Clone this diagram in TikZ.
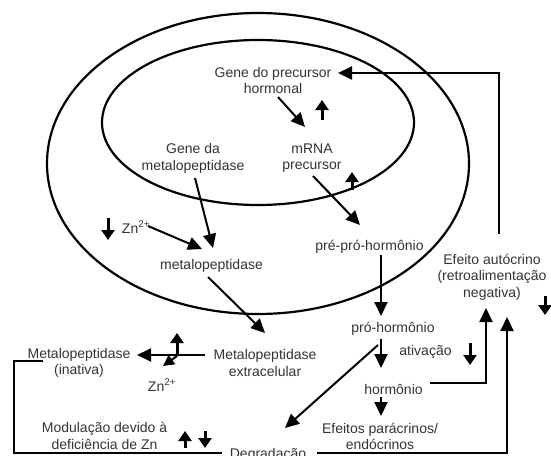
\documentclass[tikz,border=0pt]{standalone}
\usepackage{fontspec}
\setmainfont{Liberation Sans}
\usetikzlibrary{arrows.meta}
\begin{document}
\begin{tikzpicture}[x=1pt,y=-1pt,
  txt/.style={align=center,inner sep=0pt,text=black!80,font=\fontsize{14}{16.5}\selectfont},
  arr/.style={line width=2pt,-{Triangle[length=14pt,width=13pt]}},
  smallarr/.style={line width=2pt,-{Triangle[length=11pt,width=11pt]}},
  tick/.style={line width=3pt,-{Triangle[length=10pt,width=13pt]}},
  wall/.style={line width=2.2pt},
  link/.style={line width=2pt}]
\useasboundingbox (0,0) rectangle (551,455);
% cell boundaries
\draw[wall] (258,163.5) ellipse [x radius=211pt, y radius=150.5pt];
\draw[wall] (258,122.5) ellipse [x radius=156pt, y radius=82.5pt];
% texts
\node[txt] (gph) at (273,80.5) {Gene do precursor\\hormonal};
\node[txt] (mrna) at (312,158) {mRNA\\precursor};
\node[txt] (gmp) at (193,158.5) {Gene da\\metalopeptidase};
\node[txt] (zn1) at (136,227) {Zn\textsuperscript{2+}};
\node[txt] (mp) at (211.5,266) {metalopeptidase};
\node[txt] (ppp) at (369.5,247) {pré-pró-hormônio};
\node[txt] (ph) at (393,329) {pró-hormônio};
\node[txt] (at) at (425.5,352) {ativação};
\node[txt] (h) at (393.5,389) {hormônio};
\node[txt] (epe) at (380,436.5) {Efeitos parácrinos/\\endócrinos};
\node[txt] (ea) at (492,277) {Efeito autócrino\\(retroalimentação\\negativa)};
\node[txt] (mex) at (265,363) {Metalopeptidase\\extracelular};
\node[txt] (mi) at (79,363) {Metalopeptidase\\(inativa)};
\node[txt] (zn2) at (162,385) {Zn\textsuperscript{2+}};
\node[txt] (mod) at (104.5,436) {Modulação devido à\\deficiência de Zn};
\node[txt,anchor=base] (deg) at (268,458) {Degradação};
% connector end points
\coordinate (gphS) at (278,97);
\coordinate (mrnaN) at (305,127);
\coordinate (mrnaS) at (313,176);
\coordinate (pppN) at (360,225);
\coordinate (gmpS) at (195,178);
\coordinate (mpN) at (213,248);
\coordinate (zn1E) at (148,226);
\coordinate (mpW) at (202,249);
\coordinate (mpS) at (208,277);
\coordinate (mexN) at (265,333);
\coordinate (pppS) at (381,255);
\coordinate (phN) at (381,316);
\coordinate (phS) at (381,339);
\coordinate (hN) at (381,368);
\coordinate (hS) at (381,397);
\coordinate (epeN) at (381,416);
\coordinate (phSW) at (378,345);
\coordinate (degN) at (285,428);
\coordinate (mexW) at (205,355);
\coordinate (miE) at (137,355);
\coordinate (zsplit) at (177,356);
\coordinate (zn2N) at (163,366);
\coordinate (hE) at (430,383);
\coordinate (eaA) at (486,308);
\coordinate (degE) at (317,453);
\coordinate (eaB) at (507,317);
\coordinate (miW) at (43,361);
\coordinate (degW) at (222,453);
\coordinate (eaN) at (499,234);
\coordinate (gphE) at (338,73);
% connectors
\draw[arr] (gphS) -- (mrnaN);
\draw[arr] (mrnaS) -- (pppN);
\draw[arr] (gmpS) -- (mpN);
\draw[arr] (zn1E) -- (mpW);
\draw[arr] (mpS) -- (mexN);
\draw[arr] (pppS) -- (phN);
\draw[arr] (phS) -- (hN);
\draw[arr] (hS) -- (epeN);
\draw[arr] (phSW) -- (degN);
\draw[arr] (mexW) -- (miE);
\draw[smallarr] (zsplit) -- (zn2N);
\draw[arr] (hE) -| (eaA);
\draw[arr] (degE) -| (eaB);
\draw[link] (miW) -- (14,361) |- (degW);
\draw[arr] (eaN) |- (gphE);
% up / down indicators
\draw[tick] (322,120) -- (322,100);
\draw[tick] (352,190) -- (352,172);
\draw[tick] (108,218) -- (108,240);
\draw[tick] (470,343) -- (470,365);
\draw[tick] (545,296) -- (545,315);
\draw[tick] (185,448) -- (185,431);
\draw[tick] (205,431) -- (205,448);
\draw[tick] (177,355) -- (177,333);
\end{tikzpicture}
\end{document}
